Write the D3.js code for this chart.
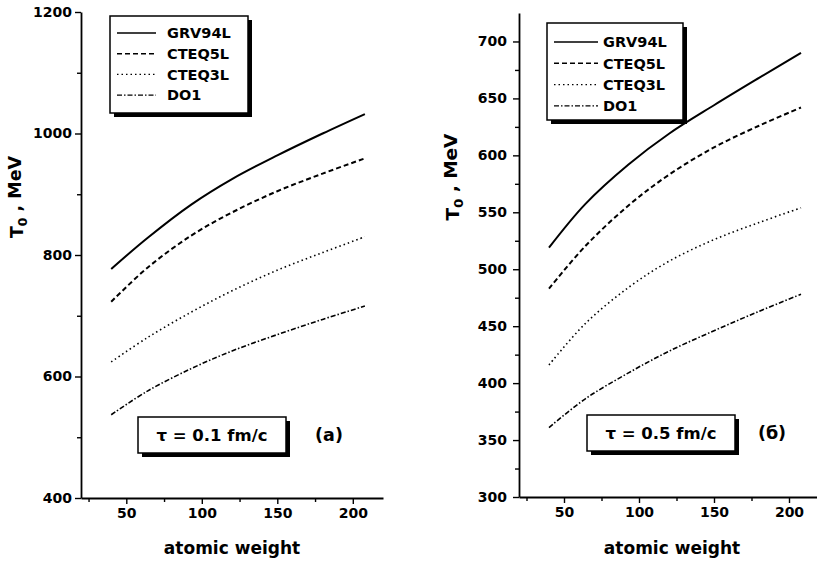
<!DOCTYPE html>
<html><head><meta charset="utf-8">
<script src="https://cdn.jsdelivr.net/npm/d3@7"></script>
<style>
body{margin:0;background:#fff;}
text{font-family:"DejaVu Sans",sans-serif;font-weight:bold;fill:#000;}
</style></head>
<body>
<script>
// ---- data ----
const atomicWeight = [40, 64, 93, 120, 150, 180, 208];
const seriesNames = ["GRV94L", "CTEQ5L", "CTEQ3L", "DO1"];
// panel (a): tau = 0.1 fm/c
const a_GRV94L = [777, 828, 883, 925, 964, 1000, 1032];
const a_CTEQ5L = [723, 779, 832, 870, 905, 934, 959];
const a_CTEQ3L = [624, 664, 706, 741, 775, 804, 830];
const a_DO1    = [537, 576, 613, 642, 669, 694, 716];
// panel (б): tau = 0.5 fm/c
const b_GRV94L = [519, 557, 592, 619, 644, 668, 690];
const b_CTEQ5L = [483, 520, 556, 583, 607, 626, 642];
const b_CTEQ3L = [416, 452, 484, 507, 526, 541, 554];
const b_DO1    = [361, 386, 409, 428, 446, 463, 478];
const xMajorTicks = [50, 100, 150, 200];
const xMinorTicks = [25, 75, 125, 175];
const aYMajor = [400, 600, 800, 1000, 1200];
const aYMinor = [500, 700, 900, 1100];
const bYMajor = [300, 350, 400, 450, 500, 550, 600, 650, 700];
const bYMinor = [325, 375, 425, 475, 525, 575, 625, 675];

const styles = {
  GRV94L: {w: 2, dash: null},
  CTEQ5L: {w: 2, dash: "5,3"},
  CTEQ3L: {w: 1.6, dash: "1.5,3"},
  DO1:    {w: 1.6, dash: "5,2,1.5,2"}
};

const svg = d3.select("body").append("svg").attr("width", 817).attr("height", 565);

function panel(o) {
  const g = svg.append("g");
  const x = d3.scaleLinear().domain([20, 220]).range(o.xr);
  const y = d3.scaleLinear().domain(o.yd).range(o.yr);
  const fmt = d3.format("d");

  // axes
  g.append("g").attr("transform", `translate(0,${o.yr[0]})`)
    .call(d3.axisBottom(x).tickValues(xMajorTicks).tickFormat(fmt).tickSize(6).tickSizeOuter(0).tickPadding(4));
  g.append("g").attr("transform", `translate(0,${o.yr[0]})`)
    .call(d3.axisBottom(x).tickValues(xMinorTicks).tickSize(4).tickFormat(""))
    .select(".domain").remove();
  g.append("g").attr("transform", `translate(${o.xr[0]},0)`)
    .call(d3.axisLeft(y).tickValues(o.yMajor).tickFormat(fmt).tickSize(6).tickSizeOuter(0).tickPadding(o.ypad));
  g.append("g").attr("transform", `translate(${o.xr[0]},0)`)
    .call(d3.axisLeft(y).tickValues(o.yMinor).tickSize(4).tickFormat(""))
    .select(".domain").remove();
  g.selectAll(".domain").attr("stroke", "#000").attr("stroke-width", 1.8);
  g.selectAll(".tick line").attr("stroke", "#000").attr("stroke-width", 1.4);
  g.selectAll(".tick text").attr("font-size", o.tickFs).attr("font-family", "DejaVu Sans").attr("font-weight", "bold");

  // lines
  const line = d3.line().x(d => x(d[0])).y(d => y(d[1])).curve(d3.curveCatmullRom.alpha(0.5));
  seriesNames.forEach((n, i) => {
    const vals = o.series[i];
    const st = styles[n];
    g.append("path").datum(atomicWeight.map((a, k) => [a, vals[k]]))
      .attr("d", line).attr("fill", "none").attr("stroke", "#000")
      .attr("stroke-width", st.w).attr("stroke-dasharray", st.dash);
  });

  // legend
  const L = o.legend;
  g.append("rect").attr("x", L.x + 4).attr("y", L.y + 4).attr("width", L.w).attr("height", L.h).attr("fill", "#000");
  g.append("rect").attr("x", L.x).attr("y", L.y).attr("width", L.w).attr("height", L.h)
    .attr("fill", "#fff").attr("stroke", "#000").attr("stroke-width", 1.5);
  seriesNames.forEach((n, i) => {
    const yy = L.y + L.r0 + i * L.dy;
    const st = styles[n];
    g.append("line").attr("x1", L.x + 7).attr("x2", L.x + 7 + L.ll).attr("y1", yy).attr("y2", yy)
      .attr("stroke", "#000").attr("stroke-width", st.w * 0.8).attr("stroke-dasharray", st.dash);
    g.append("text").attr("x", L.x + L.tx).attr("y", yy).attr("dy", "0.36em")
      .attr("font-size", L.fs).text(n);
  });

  // tau box
  const T = o.tau;
  g.append("rect").attr("x", T.x + 4).attr("y", T.y + 4).attr("width", T.w).attr("height", T.h).attr("fill", "#000");
  g.append("rect").attr("x", T.x).attr("y", T.y).attr("width", T.w).attr("height", T.h)
    .attr("fill", "#fff").attr("stroke", "#000").attr("stroke-width", 1.5);
  g.append("text").attr("x", T.x + T.w / 2).attr("y", T.y + T.h / 2).attr("dy", "0.36em")
    .attr("text-anchor", "middle").attr("font-size", 16.5).text(T.text);
  g.append("text").attr("x", T.lx).attr("y", T.y + T.h / 2).attr("dy", "0.36em")
    .attr("text-anchor", "middle").attr("font-size", 17.5).text(T.label);

  // axis titles
  g.append("text").attr("x", (o.xr[0] + o.xr[1]) / 2 + o.xtOff).attr("y", 554)
    .attr("text-anchor", "middle").attr("font-size", 17).text("atomic weight");
  const yt = g.append("text").attr("transform", `translate(${o.ytx},${o.yty}) rotate(-90)`)
    .attr("text-anchor", "middle").attr("font-size", o.ytFs);
  yt.append("tspan").text("T");
  yt.append("tspan").attr("font-size", o.ytFs * 0.7).attr("dy", "0.3em").text("0");
  yt.append("tspan").attr("dy", "-0.3em").text(" , MeV");
}

panel({
  xr: [81, 383], yd: [400, 1200], yr: [498, 12],
  yMajor: aYMajor, yMinor: aYMinor, ypad: 3, tickFs: 14,
  series: [a_GRV94L, a_CTEQ5L, a_CTEQ3L, a_DO1],
  legend: {x: 110, y: 16, w: 138, h: 97, r0: 17, dy: 20.7, ll: 39, tx: 57, fs: 14.5},
  tau: {x: 138, y: 417, w: 148, h: 36, text: "τ = 0.1 fm/c", lx: 329, label: "(a)"},
  xtOff: 0, ytx: 23, yty: 197, ytFs: 17.5
});
panel({
  xr: [519, 819], yd: [300, 725], yr: [497, 13],
  yMajor: bYMajor, yMinor: bYMinor, ypad: 6, tickFs: 14,
  series: [b_GRV94L, b_CTEQ5L, b_CTEQ3L, b_DO1],
  legend: {x: 547, y: 23, w: 136, h: 97, r0: 19, dy: 21.3, ll: 44, tx: 56, fs: 14.5},
  tau: {x: 587, y: 415, w: 148, h: 36, text: "τ = 0.5 fm/c", lx: 772, label: "(б)"},
  xtOff: 3, ytx: 459, yty: 177, ytFs: 18.5
});
</script>
</body></html>
